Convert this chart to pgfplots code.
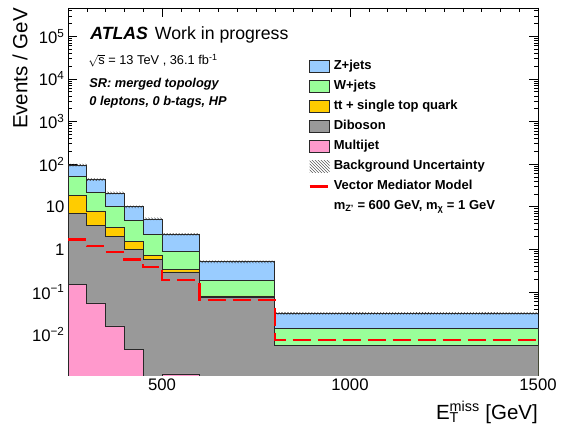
\documentclass[border=0pt]{standalone}
\usepackage{fontspec}
\setmainfont{Liberation Sans}
\usepackage{pgfplots}
\pgfplotsset{compat=1.18}
\usepackage{pgfplotstable}
\usetikzlibrary{patterns}

\definecolor{zcol}{RGB}{153,204,255}
\definecolor{wcol}{RGB}{153,255,153}
\definecolor{tcol}{RGB}{255,204,0}
\definecolor{dcol}{RGB}{153,153,153}
\definecolor{mcol}{RGB}{255,153,204}
\definecolor{ocol}{RGB}{40,40,40}

% cumulative stack heights (Events / GeV); first and last rows close the area at the bottom
\pgfplotstableread{
x    mj      db      tt      w       z
250  1e-4    1e-4    1e-4    1e-4    1e-4
250  0.148   7.1     18.2    52      95
300  0.0556  3.6     8.0     22      43.5
350  0.016   2.06    3.3     10.2    21
400  0.0046  1.0     1.57    4.7     10
450  1e-4    0.59    0.73    2.25    5.2
500  1.2e-3  0.295   0.34    0.91    2.25
600  1e-4    0.075   0.081   0.19    0.51
800  1e-4    0.0055  0.0057  0.0143  0.0316
1500 1e-4    0.0055  0.0057  0.0143  0.0316
1500 1e-4    1e-4    1e-4    1e-4    1e-4
}\stack

% signal
\pgfplotstableread{
x    sig
250  1.71
300  1.2
350  0.88
400  0.58
450  0.39
500  0.19
600  0.066
800  0.0076
1500 0.0076
}\sig

% background uncertainty band outline (total +-7%)
\pgfplotstableread{
x    y
250  101.65
300  101.65
300  46.545
350  46.545
350  22.47
400  22.47
400  10.7
450  10.7
450  5.564
500  5.564
500  2.4075
600  2.4075
600  0.5457
800  0.5457
800  0.033812
1500 0.033812
1500 0.029388
800  0.029388
800  0.4743
600  0.4743
600  2.0925
500  2.0925
500  4.836
450  4.836
450  9.3
400  9.3
400  19.53
350  19.53
350  40.455
300  40.455
300  88.35
250  88.35
}\band

\begin{document}
\begin{tikzpicture}
\begin{axis}[
  at={(0,0)}, anchor=south west,
  scale only axis, width=470bp, height=367bp,
  ymode=log,
  xmin=250, xmax=1500, ymin=1.13e-3, ymax=4.6e5,
  xtick={500,1000,1500},
  xticklabels={500,1000,1500},
  minor xtick={250,300,...,1500},
  ytick={1e-2,1e-1,1,10,100,1000,10000,100000},
  yticklabels={10\textsuperscript{−2},10\textsuperscript{−1},1,10,10\textsuperscript{2},10\textsuperscript{3},10\textsuperscript{4},10\textsuperscript{5}},
  minor ytick={2e-3,3e-3,4e-3,5e-3,6e-3,7e-3,8e-3,9e-3,
               2e-2,3e-2,4e-2,5e-2,6e-2,7e-2,8e-2,9e-2,
               0.2,0.3,0.4,0.5,0.6,0.7,0.8,0.9,
               2,3,4,5,6,7,8,9,
               20,30,40,50,60,70,80,90,
               200,300,400,500,600,700,800,900,
               2000,3000,4000,5000,6000,7000,8000,9000,
               2e4,3e4,4e4,5e4,6e4,7e4,8e4,9e4,
               2e5,3e5,4e5},
  tick align=inside,
  major tick length=9bp, minor tick length=4.5bp,
  xtick pos=both, ytick pos=both,
  xticklabel pos=bottom, yticklabel pos=left,
  axis line style={line width=0.8bp},
  tick style={black, line width=0.6bp},
  ticklabel style={font=\fontsize{16.7bp}{19bp}\selectfont},
  /pgf/number format/assume math mode=true,
  /pgf/number format/set thousands separator={},
  xlabel={E\rlap{\textsubscript{T}}\textsuperscript{miss} [GeV]},
  ylabel={Events / GeV},
  every axis x label/.style={at={(axis description cs:1,0)}, anchor=base east, yshift=-44bp, inner sep=0pt, font=\fontsize{20.5bp}{23bp}\selectfont},
  every axis y label/.style={at={(axis description cs:-0.1021,1)}, anchor=east, rotate=90, inner sep=0pt, font=\fontsize{20.5bp}{23bp}\selectfont},
  legend style={draw=none, fill=none, at={(axis description cs:0.511,0.862)}, anchor=north west,
    font=\bfseries\fontsize{13bp}{15bp}\selectfont,
    nodes={inner sep=1bp, text height=10bp, text depth=3bp},
    row sep=5bp, column sep=2bp, inner sep=0pt},
  legend cell align=left,
]
\addplot[const plot, fill=zcol, draw=ocol, line width=0.7bp,
  legend image code/.code={\draw[fill=zcol,draw=ocol,line width=0.7bp] (0bp,-6bp) rectangle (20bp,6bp);}]
  table[x=x,y=z]{\stack} -- cycle;
\addlegendentry{Z+jets}
\addplot[const plot, fill=wcol, draw=ocol, line width=0.7bp,
  legend image code/.code={\draw[fill=wcol,draw=ocol,line width=0.7bp] (0bp,-6bp) rectangle (20bp,6bp);}]
  table[x=x,y=w]{\stack} -- cycle;
\addlegendentry{W+jets}
\addplot[const plot, fill=tcol, draw=ocol, line width=0.7bp,
  legend image code/.code={\draw[fill=tcol,draw=ocol,line width=0.7bp] (0bp,-6bp) rectangle (20bp,6bp);}]
  table[x=x,y=tt]{\stack} -- cycle;
\addlegendentry{t\rlap{\hspace{0.02em}\raisebox{1.0ex}{\rule{0.3em}{0.7bp}}}t + single top quark}
\addplot[const plot, fill=dcol, draw=ocol, line width=0.7bp,
  legend image code/.code={\draw[fill=dcol,draw=ocol,line width=0.7bp] (0bp,-6bp) rectangle (20bp,6bp);}]
  table[x=x,y=db]{\stack} -- cycle;
\addlegendentry{Diboson}
\addplot[const plot, fill=mcol, draw=ocol, line width=0.7bp,
  legend image code/.code={\draw[fill=mcol,draw=ocol,line width=0.7bp] (0bp,-6bp) rectangle (20bp,6bp);}]
  table[x=x,y=mj]{\stack} -- cycle;
\addlegendentry{Multijet}

\addplot[pattern=north west lines, pattern color=black!80, draw=none,
  legend image code/.code={\fill[pattern=north west lines, pattern color=black!80] (0bp,-6bp) rectangle (20bp,6bp);}]
  table[x=x,y=y]{\band} -- cycle;
\addlegendentry{Background Uncertainty}

\addplot[const plot, red, line width=2.4bp, dash pattern=on 18bp off 7bp,
  legend image code/.code={\draw[red, line width=2.4bp] (0bp,0bp) -- (20bp,0bp);}]
  table[x=x,y=sig]{\sig};
\addlegendentry{Vector Mediator Model}
\addlegendimage{empty legend}
\addlegendentry{m\textsubscript{Z'} = 600 GeV, m\textsubscript{χ} = 1 GeV}

\node[anchor=base west, inner sep=0pt, font=\fontsize{17.7bp}{20bp}\selectfont] at (axis description cs:0.047,0.915) {\textbf{\textit{ATLAS}}\hspace{7bp}Work in progress};
\node[anchor=base west, inner sep=0pt, font=\fontsize{12.8bp}{15bp}\selectfont] at (axis description cs:0.043,0.845) {$\sqrt{\mbox{s}}$ = 13 TeV , 36.1 fb\textsuperscript{-1}};
\node[anchor=base west, inner sep=0pt, font=\bfseries\itshape\fontsize{12.8bp}{15bp}\selectfont] at (axis description cs:0.045,0.783) {SR: merged topology};
\node[anchor=base west, inner sep=0pt, font=\bfseries\itshape\fontsize{12.8bp}{15bp}\selectfont] at (axis description cs:0.045,0.733) {0 leptons, 0 b-tags, HP};
\end{axis}
\pgfresetboundingbox
\path[use as bounding box] (-68bp,-50bp) rectangle (496bp,375bp);
\end{tikzpicture}
\end{document}
